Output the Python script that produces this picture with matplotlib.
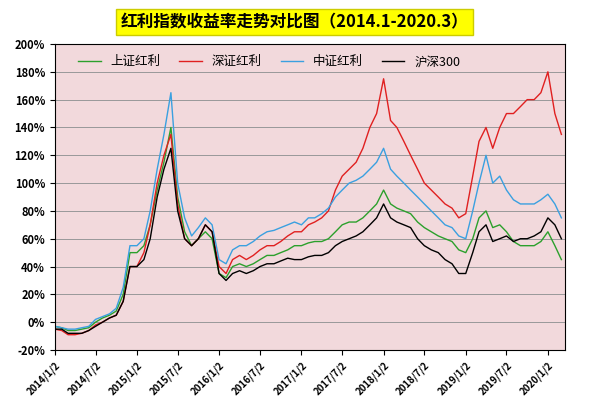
import numpy as np
import pandas as pd
import matplotlib
matplotlib.use("Agg")
import matplotlib.pyplot as plt
from matplotlib.ticker import FuncFormatter

plt.rcParams['font.family'] = ['Noto Sans CJK SC', 'DejaVu Sans']

dates = pd.date_range('2014-01-01', periods=75, freq='MS') + pd.Timedelta(days=1)

hs300 = [-5, -5, -8, -8, -8, -6, -3, 0, 3, 5, 15, 40,
         40, 45, 60, 90, 110, 125, 80, 60, 55, 60, 70, 65,
         35, 30, 35, 37, 35, 37, 40, 42, 42, 44, 46, 45,
         45, 47, 48, 48, 50, 55, 58, 60, 62, 65, 70, 75,
         85, 75, 72, 70, 68, 60, 55, 52, 50, 45, 42, 35,
         35, 50, 65, 70, 58, 60, 62, 58, 60, 60, 62, 65,
         75, 70, 60]
sh_div = [-3, -4, -6, -6, -5, -4, 0, 3, 5, 8, 20, 50,
          50, 55, 70, 95, 115, 140, 90, 65, 55, 60, 65, 60,
          35, 32, 40, 42, 40, 42, 45, 48, 48, 50, 52, 55,
          55, 57, 58, 58, 60, 65, 70, 72, 72, 75, 80, 85,
          95, 85, 82, 80, 78, 72, 68, 65, 62, 60, 58, 52,
          50, 60, 75, 80, 68, 70, 65, 58, 55, 55, 55, 58,
          65, 55, 45]
csi_div = [-3, -4, -5, -5, -4, -3, 2, 4, 6, 10, 25, 55,
           55, 60, 80, 110, 135, 165, 100, 75, 62, 68, 75, 70,
           45, 42, 52, 55, 55, 58, 62, 65, 66, 68, 70, 72,
           70, 75, 75, 78, 82, 90, 95, 100, 102, 105, 110, 115,
           125, 110, 105, 100, 95, 90, 85, 80, 75, 70, 68, 62,
           60, 80, 100, 120, 100, 105, 95, 88, 85, 85, 85, 88,
           92, 85, 75]
sz_div = [-5, -6, -9, -9, -8, -6, -2, 0, 3, 5, 15, 40,
          40, 50, 70, 100, 120, 135, 85, 60, 55, 60, 70, 65,
          40, 35, 45, 48, 45, 48, 52, 55, 55, 58, 62, 65,
          65, 70, 72, 75, 80, 95, 105, 110, 115, 125, 140, 150,
          175, 145, 140, 130, 120, 110, 100, 95, 90, 85, 82, 75,
          78, 105, 130, 140, 125, 140, 150, 150, 155, 160, 160, 165,
          180, 150, 135]
tick_labels = ['2014/1/2', '2014/7/2', '2015/1/2', '2015/7/2', '2016/1/2',
               '2016/7/2', '2017/1/2', '2017/7/2', '2018/1/2', '2018/7/2',
               '2019/1/2', '2019/7/2', '2020/1/2']

fig = plt.figure(figsize=(5.89, 4.0), dpi=100)
ax = fig.add_axes([0.093, 0.125, 0.867, 0.765])
ax.set_facecolor('#f2d9dc')

ax.plot(dates, sh_div, color='#2ca02c', lw=1, label='上证红利')
ax.plot(dates, sz_div, color='#e02020', lw=1, label='深证红利')
ax.plot(dates, csi_div, color='#3aa0e0', lw=1, label='中证红利')
ax.plot(dates, hs300, color='black', lw=1, label='沪深300')

ax.set_ylim(-20, 200)
ax.set_yticks(range(-20, 201, 20))
ax.yaxis.set_major_formatter(FuncFormatter(lambda v, p: f'{v:.0f}%'))
ax.grid(axis='y', color='#999999', lw=0.7)
ax.set_xlim(pd.Timestamp('2014-01-02'), pd.Timestamp('2020-03-20'))
ax.set_xticks(pd.to_datetime(tick_labels, format='%Y/%m/%d'))
ax.set_xticklabels(tick_labels, rotation=45, ha='right', fontsize=7,
                   fontweight='bold', rotation_mode='anchor')
for t in ax.get_yticklabels():
    t.set_fontsize(8)
    t.set_fontweight('bold')

ax.legend(loc='upper center', ncol=4, frameon=False, fontsize=9,
          bbox_to_anchor=(0.42, 1.0), handlelength=1.8, columnspacing=1.5)

fig.text(0.5, 0.945, '红利指数收益率走势对比图（2014.1-2020.3）', ha='center', va='center',
         fontsize=12, fontweight='bold',
         bbox=dict(facecolor='#ffff00', edgecolor='#cccc00', boxstyle='square,pad=0.25'))

fig.savefig('out.png', dpi=100)
